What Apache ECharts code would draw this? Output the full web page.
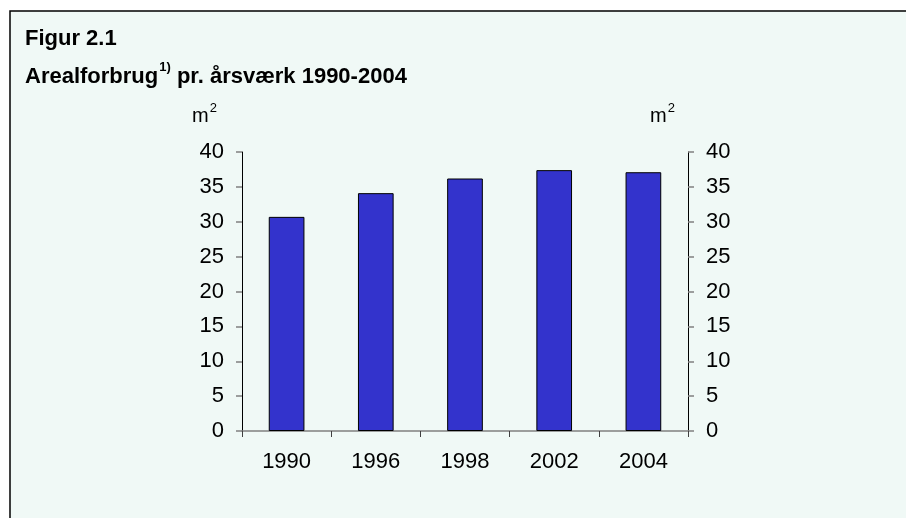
<!DOCTYPE html>
<html>
<head>
<meta charset="utf-8">
<script src="https://cdn.jsdelivr.net/npm/echarts@6/dist/echarts.min.js"></script>
<style>
  html, body { margin: 0; padding: 0; background: #ffffff; }
  #chart { width: 906px; height: 518px; }
</style>
</head>
<body>
<div id="chart"></div>
<script>
// Floor area per full-time employee (m²), selected years
const years = ['1990', '1996', '1998', '2002', '2004'];
const areaPerEmployee = [30.7, 34.1, 36.2, 37.4, 37.1];
const axisMin = 0;
const axisMax = 40;
const axisStep = 5;

const FONT = '"Liberation Sans", Arial, sans-serif';
const BG = '#f0f9f6';

const chart = echarts.init(document.getElementById('chart'));

// "m²" unit caption above each value axis
const unitText = (x) => ({
  type: 'text',
  left: x,
  top: 102,
  style: {
    text: '{b|m}{s|2}',
    rich: {
      b: { fontFamily: FONT, fontSize: 20, fill: '#000', lineHeight: 28 },
      s: { fontFamily: FONT, fontSize: 13, fill: '#000', lineHeight: 13, verticalAlign: 'top', padding: [0, 0, 0, 1] }
    }
  }
});

const yAxisCommon = {
  type: 'value',
  min: axisMin,
  max: axisMax,
  interval: axisStep,
  splitLine: { show: false },
  axisLine: { show: true, lineStyle: { color: '#000', width: 1 } },
  axisTick: { show: true, inside: false, length: 6, lineStyle: { color: '#808080', width: 1.5 } },
  axisLabel: { color: '#000', fontFamily: FONT, fontSize: 22, margin: 18 }
};

chart.setOption({
  backgroundColor: '#ffffff',
  animation: false,
  graphic: [
    {
      type: 'rect',
      shape: { x: 10, y: 11, width: 1000, height: 1000 },
      style: { fill: BG, stroke: '#000', lineWidth: 1.5 },
      z: -10
    },
    {
      type: 'text',
      left: 25,
      top: 28,
      style: { text: 'Figur 2.1', fontFamily: FONT, fontSize: 22, fontWeight: 'bold', fill: '#000' }
    },
    {
      type: 'text',
      left: 25,
      top: 61,
      style: {
        text: '{t|Arealforbrug}{s|1)}{t| pr. årsværk 1990-2004}',
        rich: {
          t: { fontFamily: FONT, fontSize: 22, fontWeight: 'bold', fill: '#000', lineHeight: 32 },
          s: { fontFamily: FONT, fontSize: 13, fontWeight: 'bold', fill: '#000', lineHeight: 13, verticalAlign: 'top', padding: [0, 0, 0, 1] }
        }
      }
    },
    unitText(192),
    unitText(650)
  ],
  grid: { left: 242, right: 218, top: 152, bottom: 87, containLabel: false },
  xAxis: {
    type: 'category',
    data: years,
    axisLine: { show: true, lineStyle: { color: '#808080', width: 1.5 } },
    axisTick: { show: true, inside: false, length: 6, lineStyle: { color: '#404040', width: 1 } },
    axisLabel: { color: '#000', fontFamily: FONT, fontSize: 22, margin: 20 }
  },
  yAxis: [
    Object.assign({}, yAxisCommon, { position: 'left' }),
    Object.assign({}, yAxisCommon, { position: 'right' })
  ],
  series: [{
    type: 'bar',
    data: areaPerEmployee,
    yAxisIndex: 0,
    barWidth: '40%',
    itemStyle: { color: '#3333cc', borderColor: '#000', borderWidth: 1 }
  }]
});
</script>
</body>
</html>
